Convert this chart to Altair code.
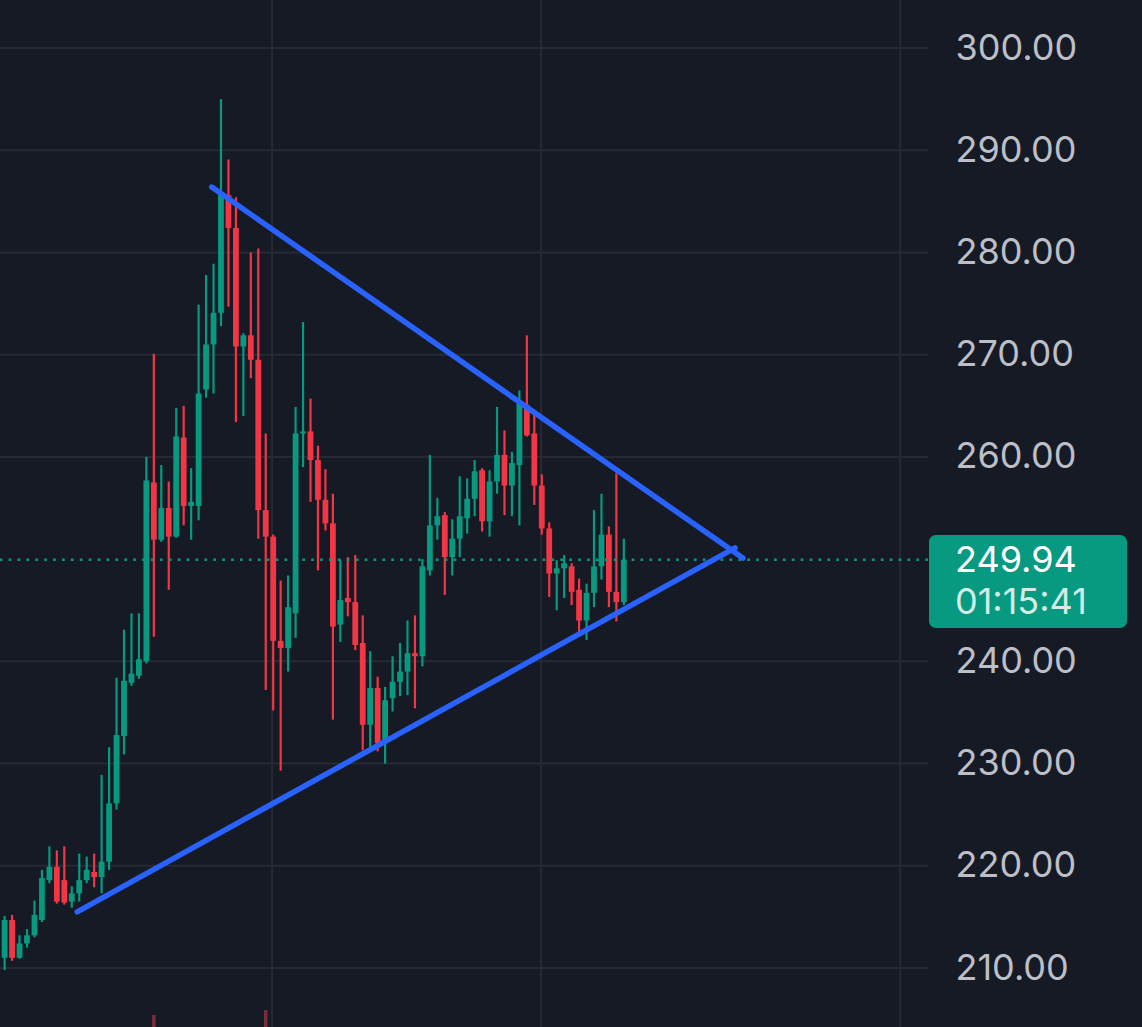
import altair as alt
import pandas as pd

# ---- candle data (one candle per bar, oldest first) ----
opens = [211.0, 214.7, 211.0, 212.4, 213.2, 214.7, 218.6, 219.9, 218.6, 216.5,
         217.3, 218.6, 219.4, 218.9, 220.4, 226.1, 232.7, 237.9, 238.6, 240.0,
         257.5, 251.9, 255.0, 252.2, 261.9, 255.2, 255.2, 266.6, 271.0, 274.1,
         285.6, 282.4, 270.8, 271.9, 269.5, 254.8, 252.2, 242.0, 241.3, 244.7,
         262.3, 262.5, 259.7, 255.8, 253.5, 243.6, 246.2, 245.8, 241.8, 233.8,
         237.4, 232.0, 236.4, 238.0, 239.0, 240.8, 240.5, 248.9, 253.3, 254.3,
         250.2, 252.0, 254.0, 255.9, 258.7, 253.7, 257.6, 260.2, 257.2, 259.2,
         265.1, 262.3, 257.2, 253.0, 248.6, 249.1, 249.3, 247.0, 244.0, 246.7,
         249.3, 252.4, 246.8, 245.8]
highs = [215.1, 215.2, 213.2, 213.8, 216.6, 219.6, 221.9, 221.5, 221.9, 218.0,
         221.2, 220.9, 221.2, 228.9, 231.6, 238.4, 243.1, 244.7, 244.7, 260.0,
         270.1, 259.2, 257.6, 264.8, 265.0, 258.9, 274.9, 277.8, 278.9, 295.0,
         289.1, 285.4, 272.1, 280.0, 280.4, 262.3, 252.4, 247.9, 248.4, 264.9,
         273.2, 265.7, 261.1, 258.8, 256.4, 249.9, 250.2, 250.4, 244.5, 241.0,
         238.5, 237.5, 240.5, 241.8, 244.0, 244.5, 250.0, 260.2, 256.0, 254.6,
         253.9, 258.1, 257.9, 259.7, 258.9, 258.7, 264.9, 262.6, 260.5, 266.5,
         271.9, 264.6, 258.3, 253.6, 249.9, 250.4, 249.6, 248.1, 247.6, 254.8,
         256.4, 253.2, 258.4, 252.0]
lows = [209.8, 210.7, 210.9, 212.0, 213.0, 214.5, 218.3, 216.3, 216.2, 215.9,
        216.5, 218.3, 217.9, 217.3, 219.6, 225.5, 230.9, 237.6, 238.3, 239.8,
        242.4, 251.7, 247.0, 252.1, 253.3, 251.9, 253.8, 265.8, 266.2, 272.8,
        274.7, 263.4, 264.0, 267.7, 252.0, 237.2, 235.2, 229.3, 239.0, 242.3,
        259.0, 255.6, 248.9, 252.8, 234.3, 241.9, 244.4, 241.1, 231.3, 231.6,
        231.2, 230.0, 235.1, 236.6, 236.7, 235.4, 239.5, 248.4, 251.9, 246.5,
        248.4, 250.2, 252.5, 254.2, 252.7, 252.2, 256.4, 254.3, 254.2, 253.3,
        262.0, 255.3, 252.4, 246.3, 245.0, 246.2, 245.5, 242.4, 242.1, 245.3,
        248.0, 245.3, 243.9, 245.5]
closes = [214.7, 211.0, 212.4, 213.2, 215.2, 218.8, 219.9, 216.5, 216.4, 217.3,
          218.6, 219.6, 218.9, 220.4, 226.1, 232.8, 238.1, 238.8, 240.2, 257.7,
          251.9, 255.0, 252.2, 262.0, 255.2, 255.6, 266.2, 271.0, 274.1, 285.9,
          282.4, 270.8, 271.9, 269.5, 254.8, 252.2, 242.0, 241.3, 245.3, 262.3,
          262.5, 259.7, 255.8, 253.5, 243.4, 246.0, 245.8, 241.6, 233.8, 237.4,
          232.0, 236.2, 238.0, 239.0, 240.8, 240.5, 249.3, 253.3, 254.2, 250.2,
          252.0, 254.2, 255.9, 258.6, 253.7, 257.6, 260.2, 257.2, 259.4, 265.2,
          262.1, 257.2, 253.0, 248.6, 249.1, 249.6, 246.8, 244.0, 246.7, 249.3,
          252.4, 246.8, 245.8, 249.94]

# visible tops of the (mostly hidden) volume bars at the bottom edge
vol_idx = [20, 35]
vol_top = [205.4, 205.9]

# trendlines: (bar index, price) end points
upper_idx = [27.76, 98.96]
upper_val = [286.4, 250.1]
lower_idx = [9.73, 97.9]
lower_val = [215.5, 251.1]

# vertical time-grid positions (bar index)
vgrid_idx = [35.85, 71.91, 120.04]

# price axis ticks
price_ticks = [210, 220, 230, 240, 260, 270, 280, 290, 300]
last_price = 249.94
last_label = "249.94"
timer_label = "01:15:41"

# ---- build frames ----
df = pd.DataFrame({"i": list(range(len(opens))), "open": opens, "high": highs,
                   "low": lows, "close": closes})
df["dir"] = ["up" if c >= o else "down" for o, c in zip(opens, closes)]

vol_df = pd.DataFrame({"i": vol_idx, "top": vol_top})
tl_df = pd.DataFrame({
    "line": ["upper"] * 2 + ["lower"] * 2,
    "i": upper_idx + lower_idx,
    "v": upper_val + lower_val,
})
vg_df = pd.DataFrame({"t": vgrid_idx})
tick_df = pd.DataFrame({"p": price_ticks})
price_df = pd.DataFrame({"p": [last_price], "label": [last_label], "timer": [timer_label]})

BG = "#161a25"
GRID = "#262a35"
UP = "#089981"
DOWN = "#f23645"

xs = alt.Scale(domain=[0.05, 123.1], nice=False, zero=False)
ys = alt.Scale(domain=[204.23, 304.70], nice=False, zero=False)
col = alt.Color("dir:N", scale=alt.Scale(domain=["up", "down"], range=[UP, DOWN]), legend=None)

yaxis = alt.Axis(orient="right", values=price_ticks, format=".2f", grid=False,
                 domain=False, ticks=False,
                 labelPadding=27, labelFontSize=36, labelColor="#bcbfc7",
                 labelFont="Inter", labelFontWeight=400, labelAlign="left",
                 labelBaseline="middle", title=None)

# horizontal price grid + price labels
hgrid = alt.Chart(tick_df).mark_rule(color=GRID, strokeWidth=2).encode(
    y=alt.Y("p:Q", scale=ys, axis=yaxis))

vgrid = alt.Chart(vg_df).mark_rule(color=GRID, strokeWidth=2).encode(
    x=alt.X("t:Q", scale=xs, axis=None))

base = alt.Chart(df)
wicks = base.mark_rule(strokeWidth=2.2).encode(
    x=alt.X("i:Q", scale=xs, axis=None),
    y=alt.Y("low:Q", scale=ys, axis=yaxis),
    y2="high:Q",
    color=col)
bodies = base.mark_bar(size=5.8).encode(
    x=alt.X("i:Q", scale=xs, axis=None),
    y=alt.Y("open:Q", scale=ys, axis=yaxis),
    y2="close:Q",
    color=col)

vol = alt.Chart(vol_df).mark_bar(size=3.5, color="#7a2d39").encode(
    x=alt.X("i:Q", scale=xs, axis=None),
    y=alt.Y("top:Q", scale=ys, axis=yaxis),
    y2=alt.value(1027))

pline = alt.Chart(price_df).mark_rule(color=UP, strokeWidth=2.6, strokeDash=[2.7, 6.2]).encode(
    y=alt.Y("p:Q", scale=ys, axis=yaxis))

trend = alt.Chart(tl_df).mark_line(color="#2962ff", strokeWidth=5.5, strokeCap="round").encode(
    x=alt.X("i:Q", scale=xs, axis=None),
    y=alt.Y("v:Q", scale=ys, axis=yaxis),
    detail="line:N")

box = alt.Chart(price_df).mark_rect(color=UP, cornerRadius=7).encode(
    x=alt.value(929), x2=alt.value(1127), y=alt.value(535), y2=alt.value(628))
t1 = alt.Chart(price_df).mark_text(align="left", baseline="middle", fontSize=36,
                                   font="Inter", color="#ffffff").encode(
    x=alt.value(955), y=alt.value(561), text="label:N")
t2 = alt.Chart(price_df).mark_text(align="left", baseline="middle", fontSize=36,
                                   font="Inter", color="#d2ece6").encode(
    x=alt.value(955), y=alt.value(603), text="timer:N")

chart = alt.layer(hgrid, vgrid, wicks, bodies, vol, pline, trend, box, t1, t2).properties(
    width=928, height=1027,
    padding={"left": 0, "top": 0, "right": 214, "bottom": 0},
    autosize=alt.AutoSizeParams(type="none"),
    background=BG,
).configure_view(strokeWidth=0)

chart.save("out.html", embed_options={"renderer": "svg", "actions": False})
